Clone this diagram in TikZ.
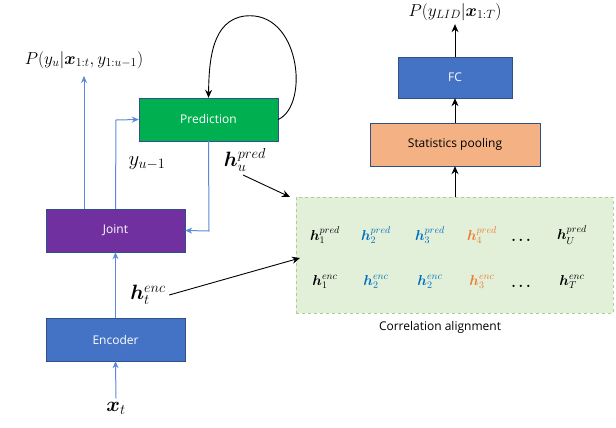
\documentclass[tikz,border=0pt]{standalone}
\usepackage{amsmath,bm}
\usepackage{fontspec}
\setsansfont{Open Sans}
\usetikzlibrary{arrows.meta}
\definecolor{bbox}{HTML}{4472C4}
\definecolor{gbox}{HTML}{00B050}
\definecolor{pbox}{HTML}{7030A0}
\definecolor{obox}{HTML}{F4B183}
\definecolor{lg}{HTML}{E2F0D9}
\definecolor{lgd}{HTML}{A9D18E}
\definecolor{tb}{HTML}{0070C0}
\definecolor{to}{HTML}{ED7D31}
\definecolor{ln}{HTML}{5B8BD6}
\begin{document}
\begin{tikzpicture}[x=1pt,y=-1pt,
 box/.style={draw=bbox!70!black,minimum height=43pt,inner sep=0pt,font=\sffamily\fontsize{12}{14}\selectfont},
 mt/.style={font=\fontsize{14}{16}\selectfont,inner sep=1pt},
 bg/.style={font=\fontsize{20}{22}\selectfont},
 bl/.style={ln,line width=1pt,-{Stealth[length=7pt,width=6pt]}},
 kl/.style={black,line width=0.9pt,-{Stealth[length=8pt,width=7pt]}}]
\useasboundingbox (0,0) rectangle (616,428);
\node[box,fill=gbox,text=white,minimum width=139pt] (pred) at (208.5,119.5) {Prediction};
\node[box,fill=pbox,text=white,minimum width=139pt] (joint) at (115.5,230.5) {Joint};
\node[box,fill=bbox,text=white,minimum width=139pt] (enc) at (115.5,339.5) {Encoder};
\node[box,fill=bbox,text=white,minimum width=114pt,minimum height=41pt] (fc) at (455,77.5) {FC};
\node[box,fill=obox,text=black,minimum width=170pt] (sp) at (455,144.5) {Statistics pooling};
\node[draw=lgd,fill=lg,dashed,line width=1pt,minimum width=317pt,minimum height=116pt] (ca) at (454.5,255) {};
\node[font=\sffamily\fontsize{12}{14}\selectfont] (ct) at (440,327) {Correlation alignment};
\node[bg] (xt) at (116,408) {$\bm{x}_t$};
\node[font=\fontsize{17}{19}\selectfont] (P1) at (84,60) {$P(y_u|\bm{x}_{1:t},y_{1:u-1})$};
\node[font=\fontsize{17}{19}\selectfont] (P2) at (455,12) {$P(y_{LID}|\bm{x}_{1:T})$};
\node[bg] (yu) at (147,163) {$y_{u-1}$};
\node[bg] (hu) at (245,160) {$\bm{h}_u^{pred}$};
\node[bg] (he) at (148,295) {$\bm{h}_t^{enc}$};
\coordinate (a1) at (84,209);
\coordinate (a2) at (84,76);
\draw[bl] (a1) -- (a2);
\draw[bl] (joint.north) -- (116,120) -- (pred.west);
\draw[bl] (pred.south) -- (209,231) -- (joint.east);
\draw[bl] (xt.north) -- (enc.south);
\draw[bl] (enc.north) -- (joint.south);
\draw[kl] (pred.east) .. controls (310,105) and (300,10) .. (245,16) .. controls (212,20) and (209,60) .. (pred.north);
\draw[kl] (243,175) -- (290,197);
\draw[kl] (he.east) -- (300,258);
\draw[kl] (ca.north-|sp) -- (sp.south);
\draw[kl] (sp.north) -- (fc.south);
\draw[kl] (fc.north) -- (P2.south);
\foreach \x/\c/\s in {325/black/1,376/tb/2,430/tb/3,482/to/4,572/black/U}
  \node[mt,text=\c] at (\x,235) {$\bm{h}_{\s}^{pred}$};
\foreach \x/\c/\s in {325/black/1,376/tb/2,430/tb/2,482/to/3,572/black/T}
  \node[mt,text=\c] at (\x,282) {$\bm{h}_{\s}^{enc}$};
\node[mt] at (521,240) {$\bm{\ldots}$};
\node[mt] at (521,286) {$\bm{\ldots}$};
\end{tikzpicture}
\end{document}
